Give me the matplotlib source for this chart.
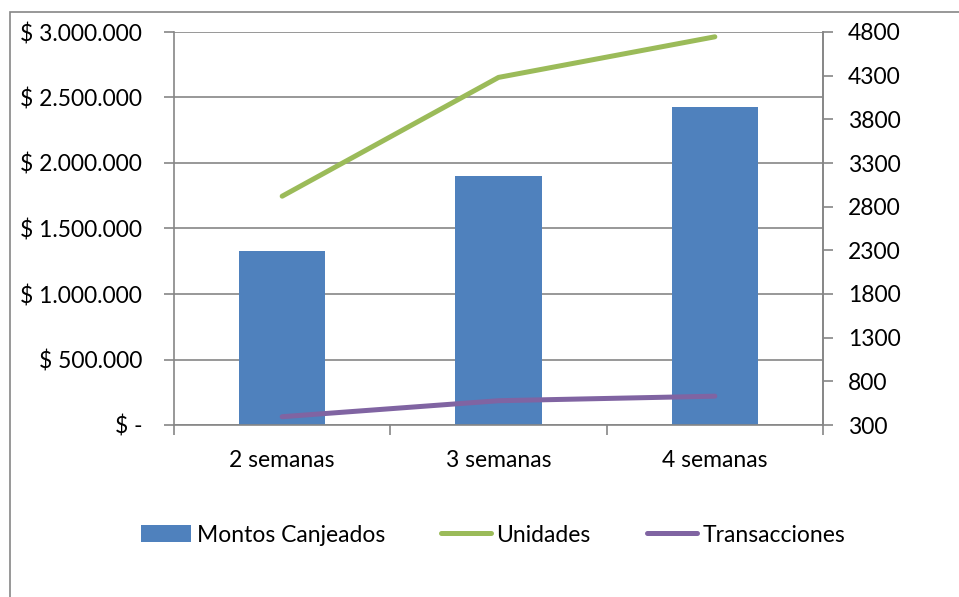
import matplotlib
matplotlib.use("Agg")
import matplotlib.pyplot as plt
from matplotlib.patches import Rectangle
from matplotlib.ticker import FuncFormatter, FixedLocator
import numpy as np

categories = ["2 semanas", "3 semanas", "4 semanas"]
montos = [1328000, 1900000, 2427000]
unidades = [2920, 4280, 4745]
transacciones = [395, 578, 630]
left_ticks = [0, 500000, 1000000, 1500000, 2000000, 2500000, 3000000]
right_ticks = [300, 800, 1300, 1800, 2300, 2800, 3300, 3800, 4300, 4800]

plt.rcParams['font.family'] = ['Lato', 'DejaVu Sans']
FS = 16.5
GRID = "#868686"
BLUE = "#4F81BD"
GREEN = "#9BBB59"
PURPLE = "#8064A2"

fig = plt.figure(figsize=(9.59, 5.97), dpi=100)
fig.patches.append(Rectangle((9.5/959, -0.1), 1.2, 0.1 + 1 - 11.5/597,
                             transform=fig.transFigure, fill=False,
                             edgecolor=GRID, linewidth=1.2))

ax = fig.add_axes([174/959, 172/597, 649/959, 393/597])
x = np.arange(len(categories))
bars = ax.bar(x, montos, width=0.4, color=BLUE, zorder=2, label="Montos Canjeados")
ax.set_xlim(-0.5, 2.5)
ax.set_ylim(0, 3000000)
ax.yaxis.set_major_locator(FixedLocator(left_ticks))

def fmt(v, pos):
    if v == 0:
        return "$ -"
    return "$ " + f"{int(v):,}".replace(",", ".")
ax.yaxis.set_major_formatter(FuncFormatter(fmt))
ax.grid(axis="y", color=GRID, linewidth=1.2, zorder=0)
ax.set_axisbelow(True)
ax.spines["top"].set_visible(False)
for s in ["left", "right", "bottom"]:
    ax.spines[s].set_color(GRID)
    ax.spines[s].set_linewidth(1.2)
ax.tick_params(axis="y", length=7, width=1.2, color=GRID, labelsize=FS, pad=16)
ax.set_xticks(x)
ax.set_xticklabels(categories)
ax.set_xticks([-0.5, 0.5, 1.5, 2.5], minor=True)
ax.tick_params(axis="x", which="major", length=0, labelsize=FS, pad=18)
ax.tick_params(axis="x", which="minor", length=7, width=1.2, color=GRID)

ax2 = ax.twinx()
l1, = ax2.plot(x, unidades, color=GREEN, linewidth=3.6, solid_capstyle="round", label="Unidades", zorder=3)
l2, = ax2.plot(x, transacciones, color=PURPLE, linewidth=3.6, solid_capstyle="round", label="Transacciones", zorder=3)
ax2.set_ylim(300, 4800)
ax2.yaxis.set_major_locator(FixedLocator(right_ticks))
ax2.tick_params(axis="y", length=7, width=1.2, color=GRID, labelsize=FS, pad=11)
for s in ["top", "left", "bottom"]:
    ax2.spines[s].set_visible(False)
ax2.spines["right"].set_color(GRID)
ax2.spines["right"].set_linewidth(1.2)

leg = fig.legend([bars, l1, l2], ["Montos Canjeados", "Unidades", "Transacciones"],
                 loc="center", bbox_to_anchor=(493/959, 1 - 535/597), ncol=3,
                 frameon=False, fontsize=FS, handlelength=2.2, handletextpad=0.22,
                 columnspacing=2.45, handleheight=0.75)

fig.savefig("out.png", dpi=100)
